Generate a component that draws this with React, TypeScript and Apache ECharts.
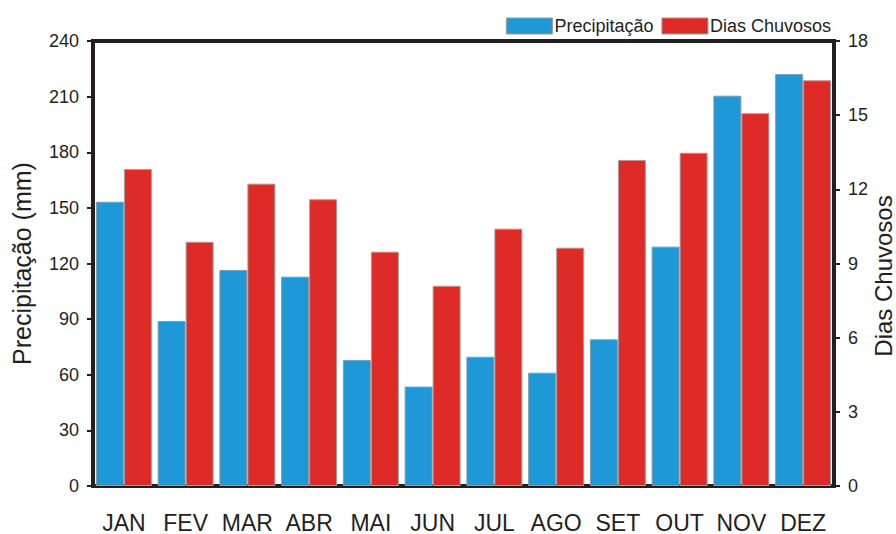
import React, { useEffect, useRef } from "react";
import * as echarts from "echarts";

const months = ["JAN", "FEV", "MAR", "ABR", "MAI", "JUN", "JUL", "AGO", "SET", "OUT", "NOV", "DEZ"];
const precipitacao = [153.3, 89, 116.5, 112.9, 68, 53.6, 69.7, 61.1, 79.1, 129.1, 210.5, 222.2];
const diasChuvosos = [12.82, 9.88, 12.23, 11.6, 9.48, 8.1, 10.41, 9.64, 13.19, 13.48, 15.08, 16.41];
const leftTicks = { min: 0, max: 240, interval: 30 };
const rightTicks = { min: 0, max: 18, interval: 3 };
const leftAxisName = "Precipitação (mm)";
const rightAxisName = "Dias Chuvosos";

const FONT = "Liberation Sans, Arial, sans-serif";
const AXIS_COLOR = "#231f20";
const TEXT_COLOR = "#231f20";

export default function App() {
  const ref = useRef<HTMLDivElement>(null);
  useEffect(() => {
    if (!ref.current) return;
    document.body.style.margin = "0";
    const chart = echarts.init(ref.current, undefined, { renderer: "svg" });
    chart.setOption({
      animation: false,
      backgroundColor: "#ffffff",
      textStyle: { fontFamily: FONT },
      grid: {
        left: 93,
        right: 62,
        top: 41,
        bottom: 48,
        show: true,
        borderColor: AXIS_COLOR,
        borderWidth: 4,
        backgroundColor: "transparent",
        containLabel: false,
        outerBoundsMode: "none",
      },
      legend: {
        top: 12,
        right: 60,
        itemWidth: 46,
        itemHeight: 16,
        itemGap: 8,
        icon: "rect",
        textStyle: { fontFamily: FONT, fontSize: 18, color: TEXT_COLOR, padding: [0, 0, 0, -3] },
        data: [
          { name: "Precipitação", itemStyle: { borderColor: "#9a9a9a", borderWidth: 1 } },
          { name: "Dias Chuvosos", itemStyle: { borderColor: "#9a9a9a", borderWidth: 1 } },
        ],
      },
      graphic: [
        {
          type: "text",
          x: 883,
          y: 276,
          rotation: Math.PI / 2,
          style: {
            text: rightAxisName,
            fontFamily: FONT,
            fontSize: 24,
            lineHeight: 22,
            fill: TEXT_COLOR,
            align: "center",
            verticalAlign: "middle",
          },
        },
      ],
      xAxis: {
        type: "category",
        data: months,
        axisLine: { show: true, lineStyle: { color: AXIS_COLOR, width: 4 } },
        axisTick: { show: false },
        axisLabel: { fontFamily: FONT, fontSize: 23, color: TEXT_COLOR, margin: 25, interval: 0 },
        splitLine: { show: false },
      },
      yAxis: [
        {
          type: "value",
          min: leftTicks.min,
          max: leftTicks.max,
          interval: leftTicks.interval,
          name: leftAxisName,
          nameLocation: "middle",
          nameGap: 59,
          nameTextStyle: { fontFamily: FONT, fontSize: 25, color: TEXT_COLOR },
          axisLine: { show: true, lineStyle: { color: AXIS_COLOR, width: 4 } },
          axisTick: { show: true, length: 6, lineStyle: { color: AXIS_COLOR, width: 2 } },
          axisLabel: { fontFamily: FONT, fontSize: 18, color: TEXT_COLOR, margin: 14 },
          splitLine: { show: false },
        },
        {
          type: "value",
          min: rightTicks.min,
          max: rightTicks.max,
          interval: rightTicks.interval,
          position: "right",
          axisLine: { show: true, lineStyle: { color: AXIS_COLOR, width: 4 } },
          axisTick: { show: true, length: 6, lineStyle: { color: AXIS_COLOR, width: 2 } },
          axisLabel: { fontFamily: FONT, fontSize: 18, color: TEXT_COLOR, margin: 14 },
          splitLine: { show: false },
        },
      ],
      series: [
        {
          name: "Precipitação",
          type: "bar",
          yAxisIndex: 0,
          data: precipitacao,
          barWidth: 28,
          barGap: "0%",
          itemStyle: { color: "#1e98d6", borderColor: "#8a9aa6", borderWidth: 1 },
        },
        {
          name: "Dias Chuvosos",
          type: "bar",
          yAxisIndex: 1,
          data: diasChuvosos,
          barWidth: 28,
          barGap: "0%",
          itemStyle: { color: "#de2b27", borderColor: "#a0a0a0", borderWidth: 1 },
        },
      ],
    });
    return () => chart.dispose();
  }, []);
  return <div ref={ref} style={{ width: 896, height: 534 }} />;
}
